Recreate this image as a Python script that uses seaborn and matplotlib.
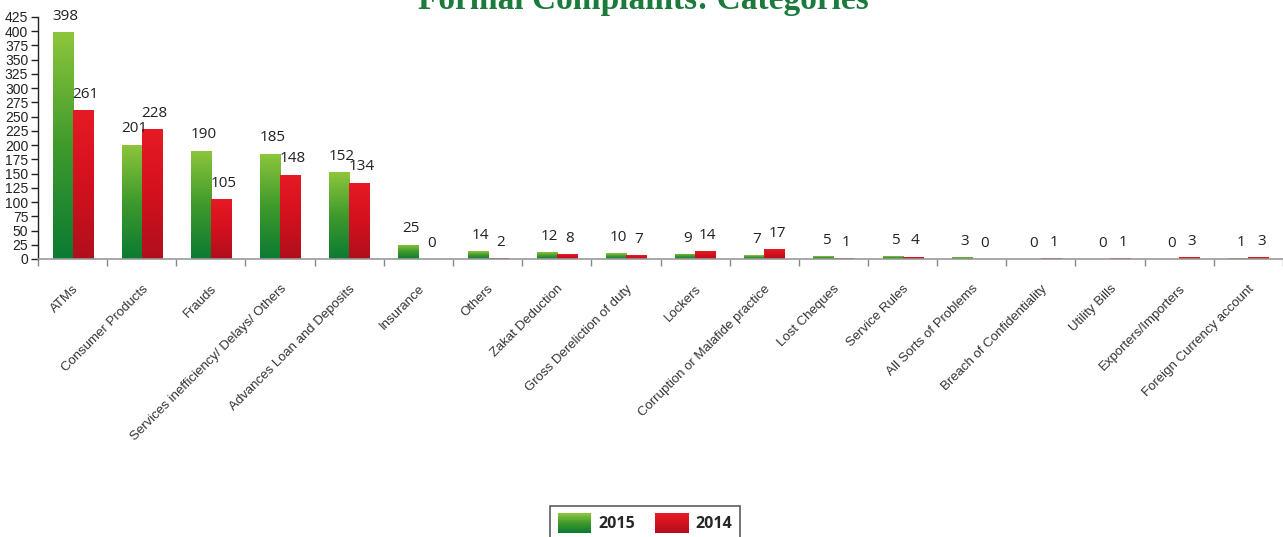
import numpy as np
import pandas as pd
import matplotlib
matplotlib.use("Agg")
import matplotlib.pyplot as plt
from matplotlib.colors import LinearSegmentedColormap
from matplotlib.patches import Patch, Rectangle
from matplotlib.legend_handler import HandlerPatch
import seaborn as sns

categories = [
    "ATMs", "Consumer Products", "Frauds", "Services inefficiency/ Delays/ Others",
    "Advances Loan and Deposits", "Insurance", "Others", "Zakat Deduction",
    "Gross Dereliction of duty", "Lockers", "Corruption or Malafide practice",
    "Lost Cheques", "Service Rules", "All Sorts of Problems",
    "Breach of Confidentiality", "Utility Bills", "Exporters/Importers",
    "Foreign Currency account",
]
values_2015 = [398, 201, 190, 185, 152, 25, 14, 12, 10, 9, 7, 5, 5, 3, 0, 0, 0, 1]
values_2014 = [261, 228, 105, 148, 134, 0, 2, 8, 7, 14, 17, 1, 4, 0, 1, 1, 3, 3]
years = ["2015", "2014"]
y_ticks = list(range(0, 426, 25))

df = pd.DataFrame({
    "category": categories * 2,
    "year": [years[0]] * len(categories) + [years[1]] * len(categories),
    "count": values_2015 + values_2014,
})

sns.set_theme(style="white")
plt.rcParams["font.family"] = ["Liberation Sans", "DejaVu Sans"]

fig = plt.figure(figsize=(12.83, 5.37), dpi=100)
ax = fig.add_axes([38 / 1283, 1 - 259 / 537, 1 - 38 / 1283, (259 - 17) / 537])

palette = {"2015": "#4ea12f", "2014": "#d0121d"}
sns.barplot(data=df, x="category", y="count", hue="year", hue_order=years,
            order=categories, palette=palette, width=0.58, gap=0,
            saturation=1, legend=False, ax=ax)

# vertical gradient fill on each bar
ramps = {
    "2015": LinearSegmentedColormap.from_list("g", ["#0b7a33", "#3f9a2c", "#8dc63c"]),
    "2014": LinearSegmentedColormap.from_list("r", ["#b00f1c", "#d3111e", "#e61a24"]),
}
grad = np.linspace(0, 1, 256).reshape(-1, 1)
n = len(categories)
bars = list(ax.patches)
for i, patch in enumerate(bars):
    yr = years[0] if i < n else years[1]
    x0, y0 = patch.get_x(), patch.get_y()
    w, h = patch.get_width(), patch.get_height()
    if h <= 0:
        continue
    im = ax.imshow(grad, cmap=ramps[yr], extent=[x0, x0 + w, y0, y0 + h],
                   origin="lower", aspect="auto", zorder=patch.get_zorder() + 0.1)
    im.set_clip_path(patch)
    patch.set_facecolor("none")

# value labels above bars
all_values = values_2015 + values_2014
for patch, val in zip(bars, all_values):
    cx = patch.get_x() + patch.get_width() / 2
    ax.annotate(f"{val}", (cx, val), xytext=(2, 6), textcoords="offset points",
                ha="center", va="bottom", fontsize=11, color="#222222",
                family=["Open Sans", "DejaVu Sans"])

ax.set_xlim(-0.5, n - 0.5)
ax.set_ylim(0, 425)
ax.set_yticks(y_ticks)
ax.set_yticklabels([str(t) for t in y_ticks], fontsize=10, color="#222222")
ax.set_xlabel("")
ax.set_ylabel("")

ax.set_xticks(range(n))
ax.set_xticklabels(categories, rotation=45, ha="right", rotation_mode="anchor",
                   fontsize=9.5, color="#333333")
ax.set_xticks(np.arange(-0.5, n, 1), minor=True)
ax.tick_params(axis="x", which="major", length=0, pad=17)
ax.tick_params(axis="x", which="minor", length=5, width=1, color="#888888",
               direction="out", bottom=True)
ax.tick_params(axis="y", length=5, width=1, color="#222222", direction="out",
               left=True, pad=2)

for s in ["top", "right"]:
    ax.spines[s].set_visible(False)
ax.spines["left"].set_color("#222222")
ax.spines["left"].set_linewidth(1)
ax.spines["bottom"].set_color("#999999")
ax.spines["bottom"].set_linewidth(1.2)

fig.text(643 / 1283, 1 - 9 / 537, "Formal Complaints: Categories",
         ha="center", va="baseline", fontsize=24, fontweight="bold",
         color="#1b7a3c", family=["Liberation Serif", "DejaVu Serif"])


class GradientKey(HandlerPatch):
    """Legend key drawn as stacked strips that follow a colour ramp."""

    def __init__(self, cmap, strips=24):
        super().__init__()
        self.cmap = cmap
        self.strips = strips

    def create_artists(self, legend, orig_handle, xdescent, ydescent,
                       width, height, fontsize, trans):
        artists = []
        sh = height / self.strips
        for k in range(self.strips):
            r = Rectangle((-xdescent, -ydescent + k * sh), width, sh * 1.05,
                          facecolor=self.cmap((k + 0.5) / self.strips),
                          edgecolor="none", transform=trans)
            artists.append(r)
        return artists


handles = [Patch(facecolor="#3f9a2c", edgecolor="none"),
           Patch(facecolor="#d3111e", edgecolor="none")]
leg = fig.legend(handles, years, loc="lower center",
                 bbox_to_anchor=(645 / 1283, -0.02), ncol=2, frameon=True,
                 fancybox=False, edgecolor="#333333", handlelength=2.1,
                 handleheight=1.5, columnspacing=1.25, handletextpad=0.45,
                 borderpad=0.45,
                 handler_map={handles[0]: GradientKey(ramps["2015"]),
                              handles[1]: GradientKey(ramps["2014"])},
                 prop={"weight": "bold", "size": 11.5,
                       "family": ["Open Sans", "DejaVu Sans"]})
leg.get_frame().set_linewidth(1.2)

fig.savefig("out.png", dpi=100)
